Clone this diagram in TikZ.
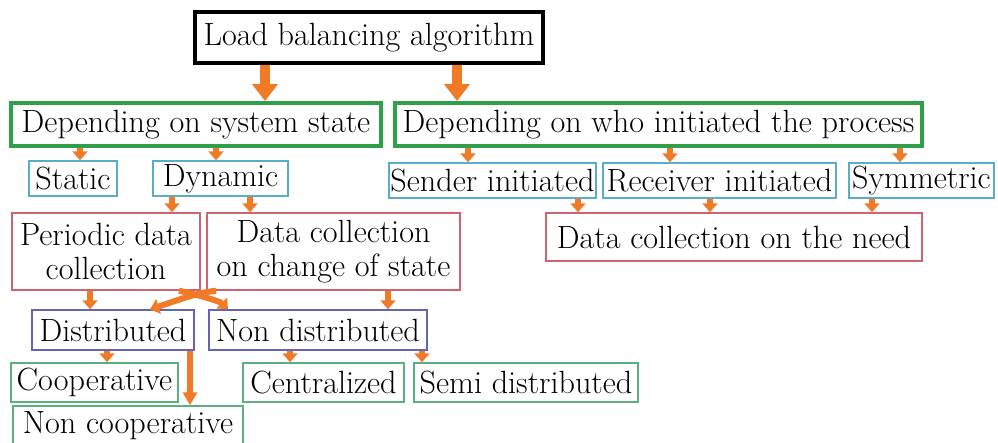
\documentclass[tikz,border=0pt]{standalone}
\usetikzlibrary{arrows.meta,positioning}

\definecolor{arrowor}{RGB}{240,122,38}
\definecolor{topgreen}{RGB}{48,160,72}
\definecolor{boxblue}{RGB}{90,172,205}
\definecolor{boxred}{RGB}{205,100,112}
\definecolor{boxviolet}{RGB}{100,100,178}
\definecolor{boxgreen}{RGB}{92,176,128}

\begin{document}
\begin{tikzpicture}[
    x=0.02cm, y=-0.02cm,
    base/.style={draw, inner sep=0pt, align=center, font=\fontsize{18.3}{19}\selectfont},
    rootbox/.style={base, line width=0.09cm, minimum height=1.02cm},
    critbox/.style={base, draw=topgreen, line width=0.08cm, minimum height=0.86cm},
    typebox/.style={base, draw=boxblue, line width=0.03cm, minimum height=0.70cm},
    collbox/.style={base, draw=boxred, line width=0.03cm},
    distbox/.style={base, draw=boxviolet, line width=0.03cm, minimum height=0.80cm},
    leafbox/.style={base, draw=boxgreen, line width=0.03cm, minimum height=0.78cm},
    bigarrow/.style={-{Triangle[width=0.5cm,length=0.34cm]}, draw=arrowor, line width=0.2cm},
    arrow/.style={-{Triangle[width=0.3cm,length=0.18cm]}, draw=arrowor, line width=0.12cm},
    midarrow/.style={-{Triangle[width=0.28cm,length=0.26cm]}, draw=arrowor, line width=0.11cm}
  ]
  \useasboundingbox (0,0) rectangle (998,443);

  \node[rootbox, minimum width=6.96cm] (load) at (369,37.5) {Load balancing algorithm};

  \node[critbox, minimum width=7.40cm] (sysstate) at (196,124.5) {Depending on system state};
  \node[critbox, minimum width=10.54cm] (initiator) at (658.5,124.5) {Depending on who initiated the process};

  \node[typebox, minimum width=1.76cm] (static) at (73,178.5) {Static};
  \node[typebox, minimum width=2.70cm] (dynamic) at (220.5,178.5) {Dynamic};
  \node[typebox, minimum width=4.14cm] (sender) at (492.5,180.5) {Sender initiated};
  \node[typebox, minimum width=4.66cm] (receiver) at (719.5,180.5) {Receiver initiated};
  \node[typebox, minimum width=2.90cm] (symmetric) at (921.5,180.5) {Symmetric};

  \node[collbox, minimum width=3.76cm, minimum height=1.54cm] (periodic) at (106,251.5) {Periodic data\\collection};
  \node[collbox, minimum width=5.06cm, minimum height=1.54cm] (onchange) at (333.5,251.5) {Data collection\\on change of state};
  \node[collbox, minimum width=7.52cm, minimum height=0.96cm] (onneed) at (734,237) {Data collection on the need};

  \node[distbox, minimum width=3.24cm] (distributed) at (113,330) {Distributed};
  \node[distbox, minimum width=4.36cm] (nondist) at (318,330) {Non distributed};

  \node[leafbox, minimum width=3.34cm] (coop) at (94.5,382.5) {Cooperative};
  \node[leafbox, minimum width=4.60cm] (noncoop) at (128,425.5) {Non cooperative};
  \node[leafbox, minimum width=3.22cm] (central) at (323.5,382.5) {Centralized};
  \node[leafbox, minimum width=4.48cm] (semi) at (526,382.5) {Semi distributed};

  \draw[bigarrow] (265,0 |- load.south) -- (265,0 |- sysstate.north);
  \draw[bigarrow] (457,0 |- load.south) -- (457,0 |- initiator.north);

  \draw[arrow] (80,0 |- sysstate.south) -- (80,0 |- static.north);
  \draw[arrow] (216,0 |- sysstate.south) -- (216,0 |- dynamic.north);
  \draw[arrow] (468,0 |- initiator.south) -- (468,0 |- sender.north);
  \draw[arrow] (670,0 |- initiator.south) -- (670,0 |- receiver.north);
  \draw[arrow] (900,0 |- initiator.south) -- (900,0 |- symmetric.north);

  \draw[arrow] (172,0 |- dynamic.south) -- (172,0 |- periodic.north);
  \draw[arrow] (250,0 |- dynamic.south) -- (250,0 |- onchange.north);
  \draw[arrow] (578,0 |- sender.south) -- (578,0 |- onneed.north);
  \draw[arrow] (710,0 |- receiver.south) -- (710,0 |- onneed.north);
  \draw[arrow] (872,0 |- symmetric.south) -- (872,0 |- onneed.north);

  \draw[arrow] (90,0 |- periodic.south) -- (90,0 |- distributed.north);
  \draw[arrow] (388,0 |- onchange.south) -- (388,0 |- nondist.north);
  % the two crossing links between the collection and distribution levels
  \draw[arrow] (179,0 |- periodic.south) .. controls +(15,3) and +(-8,-8) .. (228,0 |- nondist.north);
  \draw[arrow] (216,0 |- onchange.south) .. controls +(-20,2) and +(25,-8) .. (150,0 |- distributed.north);

  \draw[arrow] (107,0 |- distributed.south) -- (107,0 |- coop.north);
  \draw[midarrow] (190,0 |- distributed.south) -- (190,0 |- noncoop.north);
  \draw[arrow] (290,0 |- nondist.south) -- (290,0 |- central.north);
  \draw[arrow] (422,0 |- nondist.south) -- (422,0 |- semi.north);
\end{tikzpicture}
\end{document}
